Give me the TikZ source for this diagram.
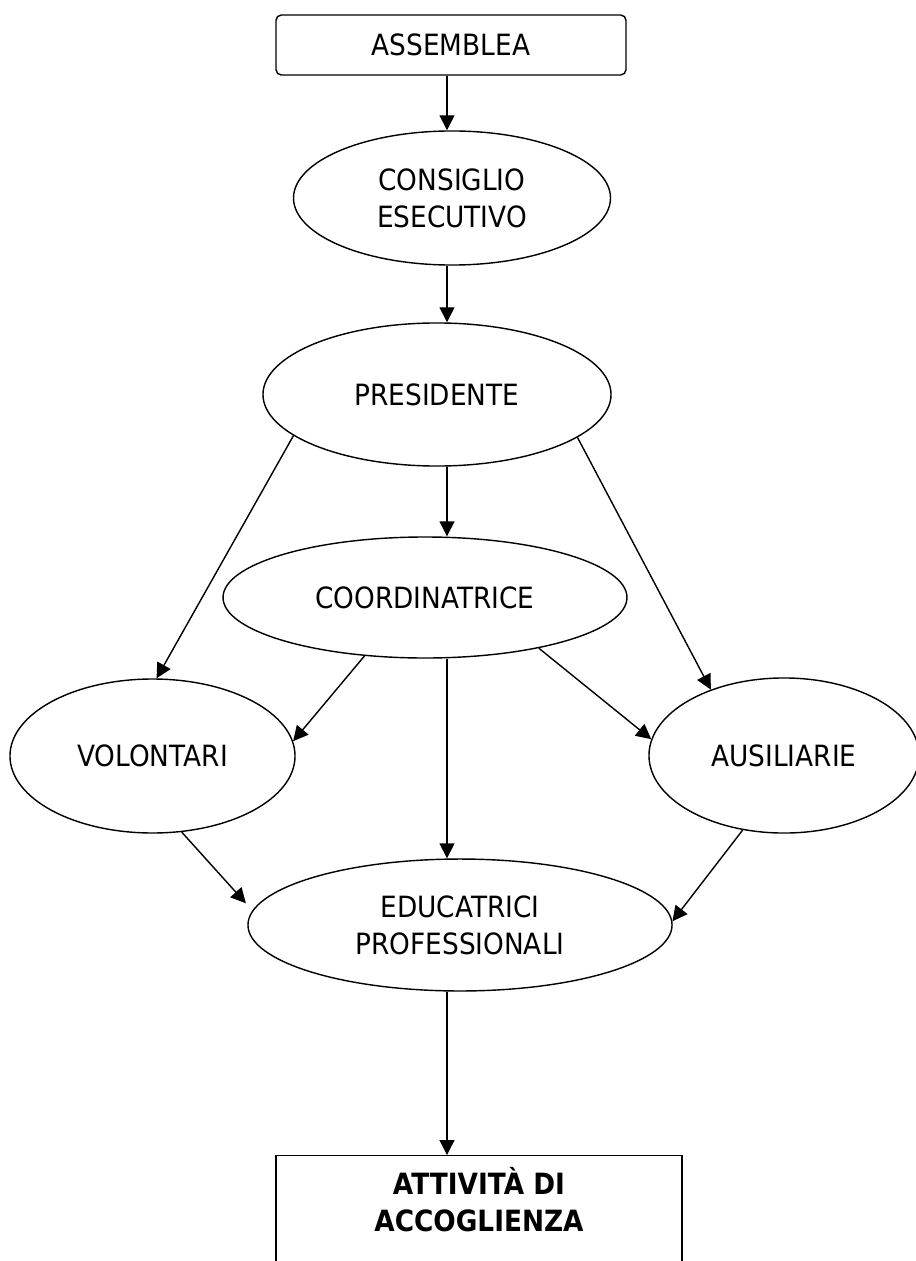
\documentclass[tikz,border=0pt]{standalone}
\usepackage{fontspec}
\setmainfont{DejaVu Sans}[FakeStretch=0.9]
\usetikzlibrary{shapes.geometric, arrows.meta}

\begin{document}
\begin{tikzpicture}[x=0.5669pt,y=-0.5669pt,line width=0.8pt,>={Triangle[length=8.5pt,width=8.5pt]},
  every node/.style={font=\fontsize{16.6}{21}\selectfont,inner sep=0pt,align=center},
  oval/.style={draw,ellipse}]
\useasboundingbox (0,0) rectangle (915,1261);
\coordinate (axis) at (447,0);
\node [draw,rounded corners=3pt,minimum width=198.4pt,minimum height=34pt] (asm) at (451,45) {ASSEMBLEA};
\node [oval,minimum width=179.7pt,minimum height=76pt] (cons) at (452,198) {CONSIGLIO\\ESECUTIVO};
\node [oval,minimum width=197.3pt,minimum height=81.1pt] (pres) at (437,394.5) {PRESIDENTE};
\node [oval,minimum width=229pt,minimum height=68.6pt] (coord) at (425,597.5) {COORDINATRICE};
\node [oval,minimum width=161.6pt,minimum height=87.3pt] (vol) at (152.5,756) {VOLONTARI};
\node [oval,minimum width=153.1pt,minimum height=87.9pt] (aus) at (784,755.5) {AUSILIARIE};
\node [oval,minimum width=240.4pt,minimum height=74.8pt] (edu) at (460,925) {EDUCATRICI\\PROFESSIONALI};
\node [draw,anchor=north,minimum width=230.2pt,text height=43.1pt,text depth=60pt,
  font=\fontsize{16.6}{21}\selectfont\bfseries] (att) at (479,1155) {ATTIVITÀ DI\\ACCOGLIENZA};
\draw [->] (asm.south -| axis) -- (cons.north -| axis);
\draw [->] (cons.south -| axis) -- (pres.north -| axis);
\draw [->] (pres.south -| axis) -- (coord.north -| axis);
\draw [->] (pres.196) -- (vol.87);
\draw [->] (pres.-17) -- (aus.138);
\draw [->] (coord.224) -- (vol.6);
\draw [->] (coord.south -| axis) -- (edu.north -| axis);
\draw [->] (coord.-24) -- (aus.173);
\draw [->,shorten >=5.5pt] (vol.-69) -- (edu.176);
\draw [->] (aus.241) -- (edu.1);
\draw [->] (edu.south -| axis) -- (att.north -| axis);
\end{tikzpicture}
\end{document}
